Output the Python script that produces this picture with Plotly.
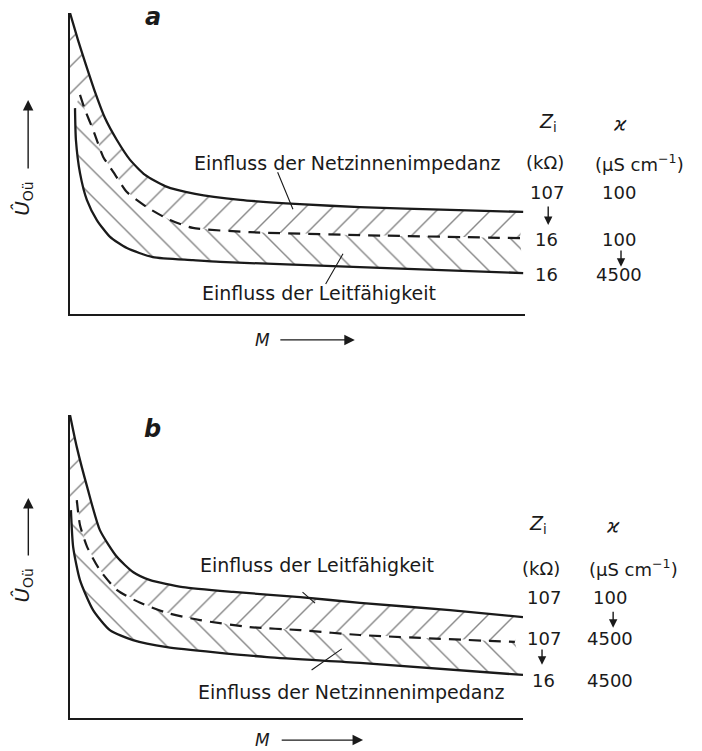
import plotly.graph_objects as go

# ---------------- data (arbitrary units: M 0..100, U 0..100) ----------------
# Panel a
a_top_x = [0, 1.76, 3.52, 5.49, 7.69, 10.3, 13.2, 16.5, 20.9, 27.5, 37.4, 50.5, 63.7, 83.5, 99.6]
a_top_y = [100, 91.0, 82.7, 73.8, 65.1, 57.8, 51.2, 46.2, 42.5, 39.9, 37.9, 36.5, 35.5, 34.6, 33.9]
a_mid_x = [2.2, 3.3, 5.1, 7.3, 9.5, 12.5, 16.9, 22.0, 27.0, 39.6, 63.7, 98.9]
a_mid_y = [72.8, 67.8, 61.1, 52.2, 47.2, 40.5, 35.5, 31.2, 28.6, 27.2, 26.2, 25.2]
a_bot_x = [1.1, 1.3, 2.2, 3.7, 5.9, 8.8, 12.5, 18.2, 27.0, 33.0, 63.7, 99.6]
a_bot_y = [68.4, 57.8, 46.8, 37.9, 31.2, 25.6, 21.9, 18.9, 17.9, 17.3, 15.6, 13.6]

# Panel b
b_top_x = [0, 1.5, 3.8, 6.6, 10.4, 13.9, 17.7, 24.9, 36.0, 50.8, 64.0, 83.9, 100]
b_top_y = [100, 89.4, 76.2, 62.0, 53.1, 48.2, 45.5, 43.2, 41.6, 39.9, 38.0, 35.6, 33.3]
b_mid_x = [1.5, 2.2, 3.8, 6.6, 10.4, 15.5, 21.4, 28.7, 39.7, 50.8, 64.0, 98.2]
b_mid_y = [71.9, 63.7, 56.4, 48.8, 42.2, 38.0, 34.7, 32.3, 30.0, 29.0, 27.4, 25.1]
b_bot_x = [0.2, 0.7, 2.2, 5.1, 8.8, 13.9, 21.4, 43.5, 64.0, 100]
b_bot_y = [68.6, 56.4, 45.5, 35.6, 29.0, 25.7, 23.4, 20.1, 18.2, 14.2]

# Right-hand parameter tables
a_zi = ["107", "16", "16"]
a_kappa = ["100", "100", "4500"]
b_zi = ["107", "107", "16"]
b_kappa = ["100", "4500", "4500"]

a_label_upper = "Einfluss der Netzinnenimpedanz"
a_label_lower = "Einfluss der Leitfähigkeit"
b_label_upper = "Einfluss der Leitfähigkeit"
b_label_lower = "Einfluss der Netzinnenimpedanz"

FONT = "DejaVu Sans"
INK = "#1a1a1a"
HATCH = "#111111"
W, H = 702, 751

DOM = {
    "a": dict(x=[70 / W, 525 / W], y=[1 - 314 / H, 1 - 13 / H]),
    "b": dict(x=[70 / W, 523 / W], y=[1 - 718 / H, 1 - 415 / H]),
}


def px_(p, x):
    d = DOM[p]["x"]
    return d[0] + x / 100 * (d[1] - d[0])


def py_(p, y):
    d = DOM[p]["y"]
    return d[0] + y / 100 * (d[1] - d[0])


fig = go.Figure()


def add_panel(xa, ya, tx, ty, mx, my, bx, by):
    px = list(tx) + list(reversed(mx)) + [0]
    py = list(ty) + list(reversed(my)) + [my[0]]
    fig.add_trace(go.Scatter(x=px, y=py, xaxis=xa, yaxis=ya, mode="lines",
                             fill="toself", fillcolor="rgba(0,0,0,0)",
                             fillpattern=dict(shape="/", size=19, solidity=0.075,
                                              fgcolor=HATCH, bgcolor="white"),
                             line=dict(width=0), hoverinfo="skip", showlegend=False))
    qx = list(mx) + list(reversed(bx))
    qy = list(my) + list(reversed(by))
    fig.add_trace(go.Scatter(x=qx, y=qy, xaxis=xa, yaxis=ya, mode="lines",
                             fill="toself", fillcolor="rgba(0,0,0,0)",
                             fillpattern=dict(shape="\\", size=19, solidity=0.075,
                                              fgcolor=HATCH, bgcolor="white"),
                             line=dict(width=0), hoverinfo="skip", showlegend=False))
    fig.add_trace(go.Scatter(x=tx, y=ty, xaxis=xa, yaxis=ya, mode="lines",
                             line=dict(color=INK, width=2.3, shape="spline", smoothing=0.6),
                             hoverinfo="skip", showlegend=False))
    fig.add_trace(go.Scatter(x=mx, y=my, xaxis=xa, yaxis=ya, mode="lines",
                             line=dict(color=INK, width=2.2, dash="12px,8px",
                                       shape="spline", smoothing=0.6),
                             hoverinfo="skip", showlegend=False))
    fig.add_trace(go.Scatter(x=bx, y=by, xaxis=xa, yaxis=ya, mode="lines",
                             line=dict(color=INK, width=2.3, shape="spline", smoothing=0.6),
                             hoverinfo="skip", showlegend=False))


add_panel("x", "y", a_top_x, a_top_y, a_mid_x, a_mid_y, a_bot_x, a_bot_y)
add_panel("x2", "y2", b_top_x, b_top_y, b_mid_x, b_mid_y, b_bot_x, b_bot_y)

ann = []


def text(p, x, y, s, size=18, **kw):
    d = dict(xref="paper", yref="paper", x=px_(p, x), y=py_(p, y), text=s,
             showarrow=False, font=dict(family=FONT, size=size, color=INK),
             xanchor="center", yanchor="middle")
    d.update(kw)
    ann.append(d)


def arrow(p, x0, y0, x1, y1, width=1.4, head=2, size=1.2):
    ann.append(dict(xref="paper", yref="paper", axref="pixel", ayref="pixel",
                    x=px_(p, x1), y=py_(p, y1),
                    ax=(px_(p, x0) - px_(p, x1)) * W, ay=-(py_(p, y0) - py_(p, y1)) * H,
                    text="", showarrow=True, arrowhead=head, arrowsize=size,
                    arrowwidth=width, arrowcolor=INK, standoff=0, startstandoff=0))


panels = [
    dict(p="a", tagx=18.2, tagy=98.7, up=a_label_upper, upx=60.9, upy=50.2,
         lo=a_label_lower, lox=54.8, loy=7.0,
         lead_u=(45.5, 47.6, 49.0, 34.8), lead_l=(56.0, 9.5, 60.0, 20.0),
         zx=105.1, kx=120.9, zux=104.4, kux=125.1, hy=63.6, uy=50.2,
         zcol=104.8, kcol=120.6, rows=[40.2, 24.6, 13.0], zi=a_zi, ka=a_kappa,
         arrs=[(105.1, 36.2, 105.1, 29.6), (121.1, 21.6, 121.1, 15.7)],
         ylab=(-10.4, 38.5), yarr=(-9.2, 47.8, -9.2, 71.1),
         m=(42.4, -8.6, 45.9, 62.6)),
    dict(p="b", tagx=18.3, tagy=95.4, up=b_label_upper, upx=54.6, upy=50.5,
         lo=b_label_lower, lox=62.0, loy=8.6,
         lead_u=(51.0, 42.0, 54.1, 37.9), lead_l=(53.0, 15.5, 60.0, 22.8),
         zx=103.3, kx=119.9, zux=104.0, kux=124.3, hy=63.7, uy=49.5,
         zcol=104.6, kcol=119.3, rows=[39.9, 26.4, 12.5], zi=b_zi, ka=b_kappa,
         arrs=[(119.9, 35.6, 119.9, 29.8), (104.2, 23.1, 104.2, 17.6)],
         ylab=(-10.4, 44.0), yarr=(-9.2, 53.1, -9.2, 72.6),
         m=(42.4, -7.3, 46.4, 64.7)),
]

for P in panels:
    p = P["p"]
    text(p, P["tagx"], P["tagy"], "<b><i>%s</i></b>" % p, size=24)
    text(p, P["upx"], P["upy"], P["up"], size=19)
    text(p, P["lox"], P["loy"], P["lo"], size=19)
    arrow(p, *P["lead_u"], width=1.1, head=0)
    arrow(p, *P["lead_l"], width=1.1, head=0)
    text(p, P["zx"], P["hy"], "<i>Z</i><sub>i</sub>", size=19)
    text(p, P["kx"], P["hy"], "<i>ϰ</i>", size=19)
    text(p, P["zux"], P["uy"], "(kΩ)")
    text(p, P["kux"], P["uy"], "(µS cm<sup>−1</sup>)")
    for yy, z, k in zip(P["rows"], P["zi"], P["ka"]):
        text(p, P["zcol"], yy, z)
        text(p, P["kcol"], yy, k)
    for a_ in P["arrs"]:
        arrow(p, *a_, width=1.4, head=2, size=1.2)
    text(p, P["ylab"][0], P["ylab"][1], "<i>Û</i><sub>Oü</sub>", size=20, textangle=-90)
    arrow(p, *P["yarr"], width=1.4, head=2, size=1.5)
    mx_, my_, ax0, ax1 = P["m"]
    text(p, mx_, my_, "<i>M</i>", size=17)
    arrow(p, ax0, my_, ax1, my_, width=1.4, head=2, size=1.5)

axis_common = dict(showline=True, linecolor=INK, linewidth=1.6, showgrid=False,
                   zeroline=False, showticklabels=False, ticks="", fixedrange=True)

fig.update_layout(
    width=W, height=H, margin=dict(l=0, r=0, t=0, b=0),
    paper_bgcolor="white", plot_bgcolor="white",
    showlegend=False,
    xaxis=dict(domain=DOM["a"]["x"], range=[0, 100], anchor="y", **axis_common),
    yaxis=dict(domain=DOM["a"]["y"], range=[0, 100], anchor="x", **axis_common),
    xaxis2=dict(domain=DOM["b"]["x"], range=[0, 100], anchor="y2", **axis_common),
    yaxis2=dict(domain=DOM["b"]["y"], range=[0, 100], anchor="x2", **axis_common),
    annotations=ann,
)

fig.write_html("out.html")
